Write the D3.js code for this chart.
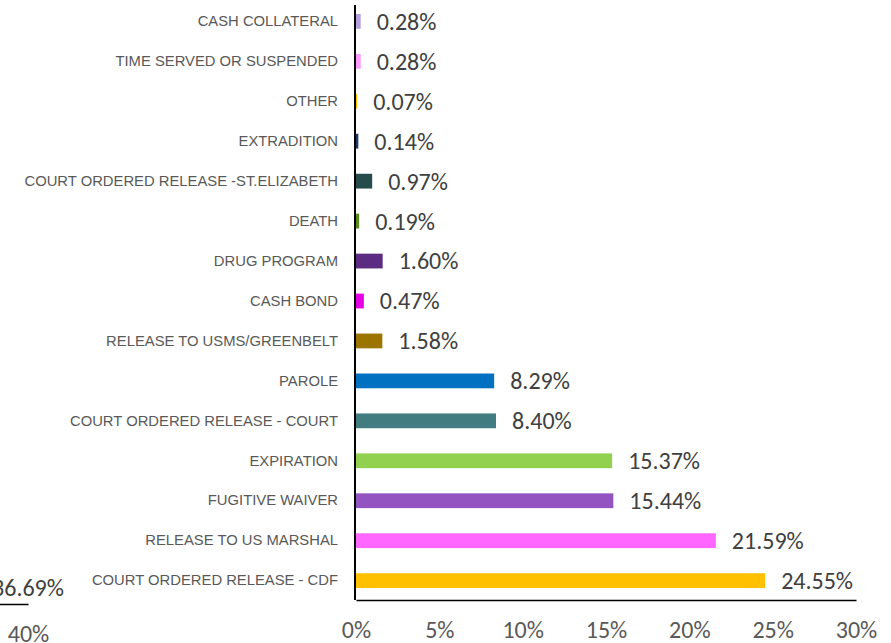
<!DOCTYPE html>
<html>
<head>
<meta charset="utf-8">
<script src="https://cdn.jsdelivr.net/npm/d3@7"></script>
<style>
  body { margin: 0; background: #fff; }
  svg { display: block; }
  svg text { font-family: Carlito, Calibri, "Liberation Sans", Arial, sans-serif; }
  svg g.cat text { font-family: "Liberation Sans", Arial, sans-serif; }
</style>
</head>
<body>
<div id="chart"></div>
<script>
// categories top to bottom
const categories = [
  "CASH COLLATERAL",
  "TIME SERVED OR SUSPENDED",
  "OTHER",
  "EXTRADITION",
  "COURT ORDERED RELEASE -ST.ELIZABETH",
  "DEATH",
  "DRUG PROGRAM",
  "CASH BOND",
  "RELEASE TO USMS/GREENBELT",
  "PAROLE",
  "COURT ORDERED RELEASE - COURT",
  "EXPIRATION",
  "FUGITIVE WAIVER",
  "RELEASE TO US MARSHAL",
  "COURT ORDERED RELEASE - CDF"
];
const values = [0.28, 0.28, 0.07, 0.14, 0.97, 0.19, 1.60, 0.47, 1.58, 8.29, 8.40, 15.37, 15.44, 21.59, 24.55];
const barColors = [
  "#b4a0dc", "#ff99ff", "#ffc000", "#1f3864", "#264b4b", "#5a8a1e", "#5b2c82", "#e600e6",
  "#9c7400", "#0070c0", "#407c80", "#92d050", "#9354c2", "#ff66ff", "#ffc000"
];
const tickValues = [0, 5, 10, 15, 20, 25, 30];

// clipped piece of the neighbouring chart on the left
const leftValues = [36.69];
const leftTicks = [40];

const width = 891, height = 643;
const svg = d3.select("#chart").append("svg")
  .attr("width", width)
  .attr("height", height);

const x = d3.scaleLinear().domain([0, 30]).range([356, 856]);
const y = d3.scaleBand().domain(categories).range([2, 600]).paddingInner(0.63).paddingOuter(0.3);

// bars
svg.selectAll(".bar")
  .data(values)
  .enter()
  .append("rect")
  .attr("class", "bar")
  .attr("x", x(0))
  .attr("y", (d, i) => y(categories[i]))
  .attr("width", d => x(d) - x(0))
  .attr("height", y.bandwidth())
  .attr("fill", (d, i) => barColors[i]);

// value labels
svg.selectAll(".val")
  .data(values)
  .enter()
  .append("text")
  .attr("class", "val")
  .attr("x", d => x(d) + 16)
  .attr("y", (d, i) => y(categories[i]) + y.bandwidth() / 2)
  .attr("dy", "0.35em")
  .style("font-size", "24px")
  .style("fill", "#404040")
  .text(d => d.toFixed(2) + "%");

// category axis
const yAxis = svg.append("g")
  .attr("class", "cat")
  .attr("transform", `translate(${x(0) - 1}, 0)`)
  .call(d3.axisLeft(y).tickSize(0).tickPadding(17));
yAxis.attr("font-family", null);
yAxis.select(".domain").attr("d", "M0,5V600").attr("stroke", "#000").attr("stroke-width", 2);
yAxis.selectAll("text").style("font-size", "14.8px").style("fill", "#595959");

// value axis
const xAxis = svg.append("g")
  .attr("transform", "translate(0, 600)")
  .call(d3.axisBottom(x).tickValues(tickValues).tickSize(0).tickPadding(21).tickFormat(d => d + "%"));
xAxis.attr("font-family", null);
xAxis.select(".domain").attr("stroke", "#000").attr("stroke-width", 1.5);
xAxis.selectAll("text").style("font-size", "24px").style("fill", "#595959");

// neighbouring chart remnant
const xl = d3.scaleLinear().domain([30, 40]).range([-138, 28]);
svg.selectAll(".lval")
  .data(leftValues)
  .enter()
  .append("text")
  .attr("class", "lval")
  .attr("x", d => xl(d) + 19)
  .attr("y", 588)
  .attr("dy", "0.35em")
  .style("font-size", "24px")
  .style("fill", "#404040")
  .text(d => d.toFixed(2) + "%");
const lAxis = svg.append("g")
  .attr("transform", "translate(0, 604)")
  .call(d3.axisBottom(xl).tickValues(leftTicks).tickSize(0).tickPadding(21).tickFormat(d => d + "%"));
lAxis.attr("font-family", null);
lAxis.select(".domain").attr("stroke", "#000").attr("stroke-width", 1.5);
lAxis.selectAll("text").style("font-size", "24px").style("fill", "#595959");
</script>
</body>
</html>
